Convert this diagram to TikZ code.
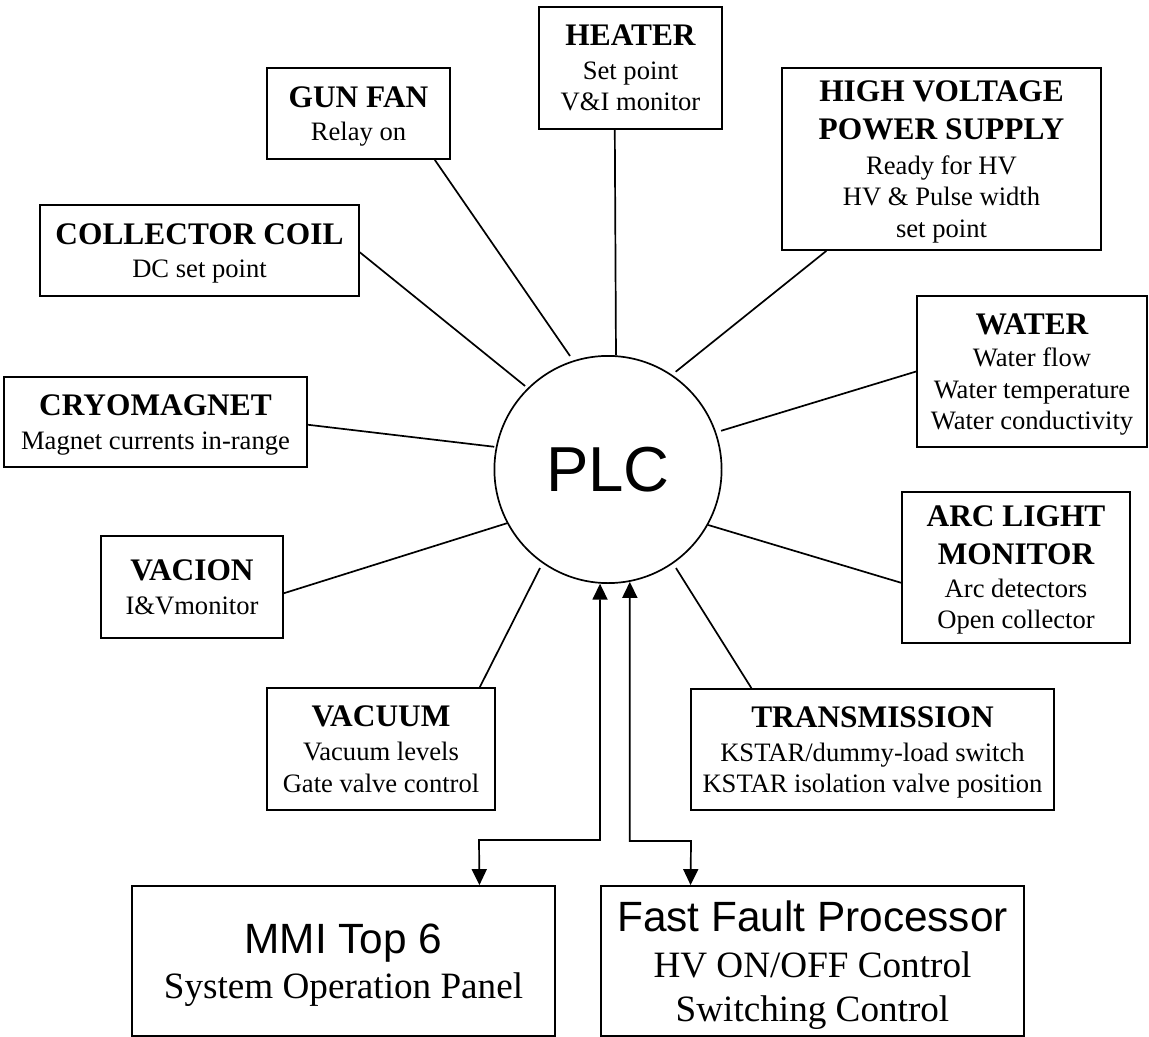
\documentclass[tikz,border=0pt]{standalone}
\usepackage{fontspec}
\setmainfont{Liberation Serif}
\setsansfont{Liberation Sans}
\usetikzlibrary{calc,arrows.meta}
\newcommand{\ttl}[1]{{\fontsize{31.5}{34}\selectfont\bfseries #1}}
\tikzset{
  box/.style={draw, line width=1.8bp, rectangle, align=center, inner sep=0pt,
    text depth=0pt, font=\fontsize{26.7}{31.5}\selectfont},
  bigbox/.style={box, font=\fontsize{37.3}{44}\selectfont},
  conn/.style={line width=1.7bp},
  biarrow/.style={line width=1.7bp,
    {Triangle[length=16bp,width=15bp]}-{Triangle[length=16bp,width=15bp]}},
}
\begin{document}
\begin{tikzpicture}[x=1bp,y=-1bp]
\useasboundingbox (0,0) rectangle (1149,1037);

\node[circle, draw, line width=1.7bp, minimum size=227.2bp, inner sep=0pt,
  font=\sffamily\fontsize{63.8}{70}\selectfont] (plc) at (608,469.5) {PLC};

\node[box, minimum width=183bp, minimum height=122bp] (heater) at (630.5,68)
  {\ttl{HEATER}\\[2.5bp] Set point\\ V\&I monitor};
\node[box, minimum width=183bp, minimum height=91bp] (gunfan) at (358.5,113.5)
  {\ttl{GUN FAN}\\[2bp] Relay on};
\node[box, minimum width=319bp, minimum height=91bp] (coll) at (199.5,250.5)
  {\ttl{COLLECTOR COIL}\\[2bp] DC set point};
\node[box, minimum width=303bp, minimum height=90bp] (cryo) at (155.5,422)
  {\ttl{CRYOMAGNET}\\[2bp] Magnet currents in-range};
\node[box, minimum width=182bp, minimum height=102bp] (vacion) at (192,587)
  {\ttl{VACION}\\[2bp] I\&Vmonitor};
\node[box, minimum width=228bp, minimum height=122bp] (vacuum) at (381,749)
  {\ttl{VACUUM}\\[2.5bp] Vacuum levels\\ Gate valve control};
\node[box, minimum width=363bp, minimum height=121bp] (trans) at (872.5,749.5)
  {\ttl{TRANSMISSION}\\[2.5bp] KSTAR/dummy-load switch\\ KSTAR isolation valve position};
\node[box, minimum width=228bp, minimum height=151bp] (arc) at (1016,567.5)
  {\ttl{ARC LIGHT}\\[6bp] \ttl{MONITOR}\\[2bp] Arc detectors\\ Open collector};
\node[box, minimum width=230bp, minimum height=151bp] (water) at (1032,371.5)
  {\ttl{WATER}\\[1bp] Water flow\\ Water temperature\\ Water conductivity};
\node[box, minimum width=319bp, minimum height=182bp] (hvps) at (941.5,159)
  {\ttl{HIGH VOLTAGE}\\[6bp] \ttl{POWER SUPPLY}\\[4bp] Ready for HV\\ HV \& Pulse width\\ set point};
\node[bigbox, minimum width=423bp, minimum height=150bp] (mmi) at (343.5,961)
  {{\sffamily\fontsize{42.5}{46}\selectfont MMI Top 6}\\[1bp] System Operation Panel};
\node[bigbox, minimum width=423bp, minimum height=150bp] (ffp) at (812.5,961)
  {{\sffamily\fontsize{42.5}{46}\selectfont Fast Fault Processor}\\[2bp] HV ON/OFF Control\\ Switching Control};

\draw[conn] ($(heater.south west)!0.415!(heater.south east)$) -- (plc.86.5);
\draw[conn] ($(gunfan.south west)!0.913!(gunfan.south east)$) -- ($(plc.center)+(108.5:119.7bp)$);
\draw[conn] ($(coll.north east)!0.52!(coll.south east)$) -- ($(plc.center)+(134.8:117.7bp)$);
\draw[conn] ($(cryo.north east)!0.53!(cryo.south east)$) -- ($(plc.center)+(168.7:116bp)$);
\draw[conn] ($(vacion.north east)!0.56!(vacion.south east)$) -- (plc.208);
\draw[conn] ($(vacuum.north west)!0.93!(vacuum.north east)$) -- ($(plc.center)+(235.4:119.7bp)$);
\draw[conn] ($(trans.north west)!0.168!(trans.north east)$) -- ($(plc.center)+(304.6:119.7bp)$);
\draw[conn] ($(arc.north west)!0.6!(arc.south west)$) -- (plc.331.7);
\draw[conn] ($(water.north west)!0.5!(water.south west)$) -- ($(plc.center)+(18.9:119.5bp)$);
\draw[conn] ($(hvps.south west)!0.141!(hvps.south east)$) -- ($(plc.center)+(55.3:118.9bp)$);

\coordinate (jl) at (479,840);
\coordinate (jr) at (691,841);
\coordinate (mtop) at ($(mmi.north west)!0.82!(mmi.north east)$);
\coordinate (ftop) at ($(ffp.north west)!0.213!(ffp.north east)$);
\draw[biarrow] (plc.266) |- (jl) -- (mtop);
\draw[biarrow] (plc.281.2) |- (jr) -- (ftop);
\end{tikzpicture}
\end{document}
